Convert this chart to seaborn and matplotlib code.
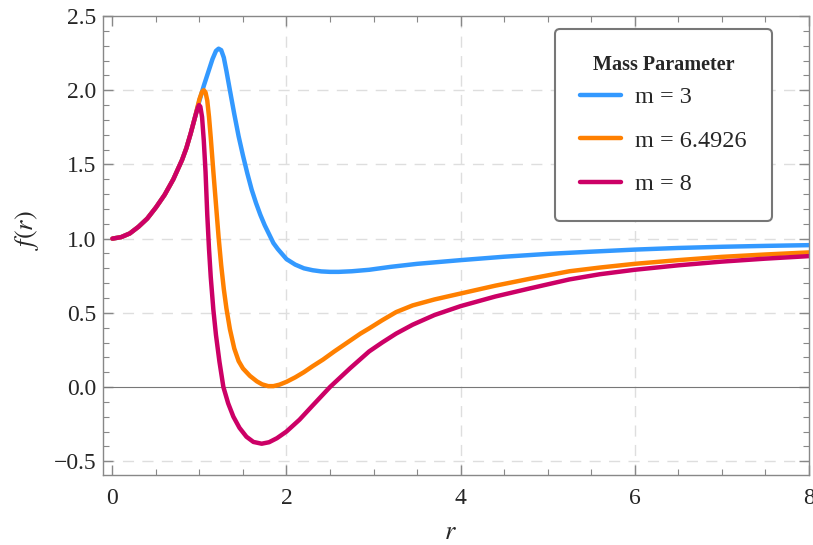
import numpy as np
import pandas as pd
import seaborn as sns
import matplotlib.pyplot as plt
from matplotlib.ticker import MultipleLocator

# values
r_m3 = [0.0, 0.1, 0.2, 0.3, 0.4, 0.5, 0.6, 0.7, 0.8, 0.85, 0.9, 0.95, 1.0, 1.05, 1.1, 1.15,
        1.19, 1.22, 1.25, 1.28, 1.31, 1.35, 1.40, 1.45, 1.50, 1.55, 1.60, 1.65, 1.70, 1.75,
        1.80, 1.85, 1.90, 2.0, 2.1, 2.2, 2.3, 2.4, 2.5, 2.6, 2.75, 2.95, 3.2, 3.5, 4.0,
        4.5, 5.0, 5.5, 6.0, 6.5, 7.0, 7.5, 8.0]
f_m3 = [1.0, 1.01, 1.035, 1.08, 1.135, 1.21, 1.295, 1.40, 1.53, 1.61, 1.71, 1.82, 1.93, 2.03, 2.12, 2.21,
        2.265, 2.28, 2.27, 2.22, 2.13, 2.0, 1.84, 1.69, 1.56, 1.44, 1.33, 1.24, 1.16, 1.09,
        1.03, 0.97, 0.93, 0.862, 0.825, 0.80, 0.787, 0.779, 0.776, 0.776, 0.78, 0.79, 0.81, 0.83, 0.855,
        0.878, 0.897, 0.912, 0.926, 0.937, 0.945, 0.951, 0.956]

r_m6 = [0.0, 0.1, 0.2, 0.3, 0.4, 0.5, 0.6, 0.7, 0.8, 0.85, 0.9, 0.95, 1.0, 1.03, 1.05, 1.07,
        1.09, 1.11, 1.13, 1.16, 1.19, 1.22, 1.25, 1.28, 1.31, 1.35, 1.40, 1.45, 1.50, 1.58,
        1.66, 1.72, 1.79, 1.85, 1.92, 2.0, 2.1, 2.2, 2.3, 2.42, 2.55, 2.7, 2.85, 2.95, 3.1,
        3.26, 3.45, 3.7, 4.0, 4.4, 4.8, 5.25, 5.6, 6.0, 6.5, 7.0, 7.5, 8.0]
f_m6 = [1.0, 1.01, 1.035, 1.08, 1.135, 1.21, 1.295, 1.40, 1.53, 1.61, 1.71, 1.82, 1.94, 1.99, 2.0, 1.985,
        1.93, 1.82, 1.68, 1.45, 1.23, 1.01, 0.82, 0.66, 0.53, 0.39, 0.26, 0.175, 0.125, 0.075,
        0.038, 0.018, 0.006, 0.006, 0.016, 0.035, 0.065, 0.10, 0.14, 0.185, 0.24, 0.30, 0.36, 0.395, 0.45,
        0.505, 0.55, 0.59, 0.63, 0.683, 0.73, 0.78, 0.805, 0.83, 0.855, 0.877, 0.893, 0.907]

r_m8 = [0.0, 0.1, 0.2, 0.3, 0.4, 0.5, 0.6, 0.7, 0.8, 0.85, 0.9, 0.95, 0.98, 0.995, 1.01, 1.03,
        1.05, 1.07, 1.09, 1.11, 1.13, 1.16, 1.19, 1.23, 1.275, 1.33, 1.39, 1.46, 1.54, 1.62,
        1.715, 1.80, 1.89, 2.0, 2.15, 2.3, 2.5, 2.73, 2.95, 3.1, 3.26, 3.45, 3.7, 4.0, 4.4,
        4.8, 5.25, 5.6, 6.0, 6.5, 7.0, 7.5, 8.0]
f_m8 = [1.0, 1.01, 1.035, 1.08, 1.135, 1.21, 1.295, 1.40, 1.53, 1.61, 1.71, 1.82, 1.88, 1.90, 1.89, 1.82,
        1.66, 1.45, 1.16, 0.93, 0.74, 0.52, 0.35, 0.17, 0.0, -0.11, -0.20, -0.275, -0.335, -0.37,
        -0.382, -0.372, -0.345, -0.30, -0.22, -0.125, 0.0, 0.126, 0.24, 0.30, 0.36, 0.42, 0.485, 0.545, 0.61,
        0.665, 0.725, 0.76, 0.79, 0.82, 0.845, 0.865, 0.882]

labels = ["m = 3", "m = 6.4926", "m = 8"]
colors = ["#3399FF", "#FF8000", "#CC0066"]

frames = []
for lab, r, f in zip(labels, [r_m3, r_m6, r_m8], [f_m3, f_m6, f_m8]):
    frames.append(pd.DataFrame({"r": r, "f": f, "m": lab}))
df = pd.concat(frames, ignore_index=True)

sns.set_style("ticks")
plt.rcParams['font.family'] = ['Liberation Serif', 'DejaVu Serif']
plt.rcParams['mathtext.fontset'] = 'stix'

fig = plt.figure(figsize=(8.13, 5.45), dpi=100)
ax = fig.add_axes([0.1267, 0.1284, 0.868, 0.8422])

# grid + zero line
for xg in [2, 4, 6]:
    ax.axvline(xg, color="#dedede", lw=1.0, ls=(0, (8, 6)), zorder=0)
for yg in [-0.5, 0.5, 1.0, 1.5, 2.0]:
    ax.axhline(yg, color="#dedede", lw=1.0, ls=(0, (8, 6)), zorder=0)
ax.axhline(0, color="#777777", lw=0.8, zorder=1)

sns.lineplot(data=df, x="r", y="f", hue="m", palette=colors, sort=False,
             estimator=None, lw=3.2, ax=ax, legend=False)
for ln in ax.get_lines():
    ln.set_solid_joinstyle("round")
    ln.set_solid_capstyle("round")

ax.set_xlim(-0.108, 8.0)
ax.set_ylim(-0.593, 2.5)
ax.xaxis.set_major_locator(MultipleLocator(2))
ax.xaxis.set_minor_locator(MultipleLocator(0.5))
ax.yaxis.set_minor_locator(MultipleLocator(0.1))
ax.set_yticks([-0.5, 0.0, 0.5, 1.0, 1.5, 2.0, 2.5])
ax.set_yticklabels(["\u22120.5", "0.0", "0.5", "1.0", "1.5", "2.0", "2.5"])

for s in ax.spines.values():
    s.set_color("#888888")
    s.set_linewidth(1.0)
ax.tick_params(which="both", direction="in", top=True, right=True, color="#888888")
ax.tick_params(which="major", length=7, width=1.0, labelsize=17)
ax.tick_params(which="minor", length=4, width=0.8)
ax.tick_params(axis="x", pad=9)
ax.tick_params(axis="y", pad=5)

ax.set_xlabel("$r$", fontsize=19)
ax.set_ylabel("$f(r)$", fontsize=19)
ax.xaxis.set_label_coords(0.493, -0.102)
ax.yaxis.set_label_coords(-0.088, 0.534)

handles = [plt.Line2D([], [], color=c, lw=3.2) for c in colors]
leg = ax.legend(handles, labels, title="Mass Parameter", loc="upper right",
                bbox_to_anchor=(0.948, 0.9717), borderaxespad=0, fontsize=17.5,
                frameon=True, fancybox=True, edgecolor="#777777", handlelength=1.7,
                borderpad=1.05, labelspacing=0.88, handletextpad=0.55,
                title_fontproperties={"weight": "bold", "size": 14.5,
                                      "family": "Liberation Serif"})
leg._legend_box.sep = 8.5  # tighter gap under the title
leg.get_frame().set_linewidth(1.5)
leg.get_frame().set_alpha(1)

fig.savefig("out.png", dpi=100)
